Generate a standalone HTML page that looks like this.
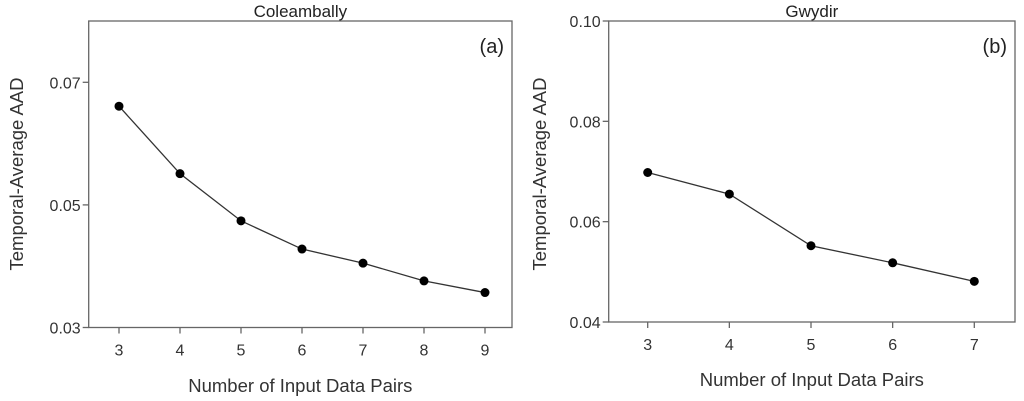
<!DOCTYPE html>
<html><head><meta charset="utf-8"><style>
body{margin:0;background:#fff}
svg{display:block;font-family:"Liberation Sans",sans-serif}
</style></head><body>
<svg id="chart" width="1024" height="401" viewBox="0 0 1024 401"></svg>
<script>
const catsA=[3,4,5,6,7,8,9];
const valsA=[0.0661,0.0551,0.0474,0.0428,0.0405,0.0376,0.0357];
const yTicksA=[0.03,0.05,0.07];
const yTickLabelsA=["0.03","0.05","0.07"];
const catsB=[3,4,5,6,7];
const valsB=[0.0698,0.0655,0.0552,0.0518,0.0481];
const yTicksB=[0.04,0.06,0.08,0.10];
const yTickLabelsB=["0.04","0.06","0.08","0.10"];

const svg=document.getElementById('chart');
const NS='http://www.w3.org/2000/svg';
function mk(tag,attrs,parent){const e=document.createElementNS(NS,tag);for(const k in attrs)e.setAttribute(k,attrs[k]);(parent||svg).appendChild(e);return e;}

function panel(o){
  const g=mk('g',{});
  
  
  const xs=v=>o.x0+(v-o.xmin)/(o.xmax-o.xmin)*(o.x1-o.x0);
  const ys=v=>o.bot+(v-o.ymin)/(o.ymax-o.ymin)*(o.top-o.bot);
  const fr=mk('rect',{x:o.fl,y:o.top,width:o.fr-o.fl,height:o.bot-o.top,fill:'none',stroke:'#666','stroke-width':1.3},g);
  
  
  o.yt.forEach((v,i)=>{
    const y=ys(v);
    const t=mk('line',{x1:o.fl-6,x2:o.fl,y1:y,y2:y,stroke:'#666','stroke-width':1.3},g);
    
    
    const l=mk('text',{x:o.fl-8,y:y+6,'text-anchor':'end','font-size':16,fill:'#333'},g);
    l.textContent=o.ytl[i];
    
    
  });
  o.cats.forEach(c=>{
    const x=xs(c);
    const t=mk('line',{x1:x,x2:x,y1:o.bot,y2:o.bot+6,stroke:'#666','stroke-width':1.3},g);
    
    
    const l=mk('text',{x:x,y:o.bot+28,'text-anchor':'middle','font-size':16,fill:'#333'},g);
    l.textContent=c;
    
    
  });
  const pts=o.cats.map((c,i)=>xs(c)+','+ys(o.vals[i])).join(' ');
  const pl=mk('polyline',{points:pts,fill:'none',stroke:'#333','stroke-width':1.3},g);
  
  
  o.cats.forEach((c,i)=>{
    const p=mk('circle',{cx:xs(c),cy:ys(o.vals[i]),r:4.5,fill:'#000'},g);
    
    
  });
  const ti=mk('text',{x:(o.fl+o.fr)/2,y:17,'text-anchor':'middle','font-size':17,fill:'#222'},g);
  ti.textContent=o.title;
  
  
  const pa=mk('text',{x:o.fr-8,y:o.top+32,'text-anchor':'end','font-size':20,fill:'#222'},g);
  pa.textContent=o.tag;
  
  
  const xt=mk('text',{x:(o.fl+o.fr)/2,y:o.xty,'text-anchor':'middle','font-size':18.5,fill:'#333'},g);
  xt.textContent='Number of Input Data Pairs';
  
  
  const yt=mk('text',{x:0,y:0,'text-anchor':'middle','font-size':18.5,fill:'#333',transform:`translate(${o.ytx},${o.yty}) rotate(-90)`},g);
  yt.textContent='Temporal-Average AAD';
  
  
}
panel({name:'panel-a-coleambally',title:'Coleambally',tag:'(a)',cats:catsA,vals:valsA,yt:yTicksA,ytl:yTickLabelsA,
  fl:88.7,fr:512,top:21,bot:327.5,xmin:3,xmax:9,x0:119,x1:485,ymin:0.03,ymax:0.08,xty:392,ytx:23,yty:174});
panel({name:'panel-b-gwydir',title:'Gwydir',tag:'(b)',cats:catsB,vals:valsB,yt:yTicksB,ytl:yTickLabelsB,
  fl:608.7,fr:1015,top:21,bot:322,xmin:3,xmax:7,x0:647.7,x1:974.3,ymin:0.04,ymax:0.10,xty:386,ytx:546,yty:174});
</script>
</body></html>
